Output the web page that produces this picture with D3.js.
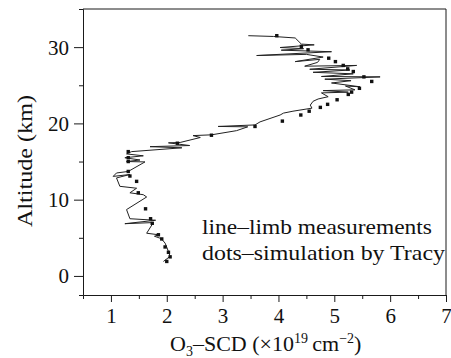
<!DOCTYPE html>
<html>
<head>
<meta charset="utf-8">
<script src="https://cdn.jsdelivr.net/npm/d3@7"></script>
</head>
<body style="margin:0">
<svg id="chart" width="451" height="358"></svg>
<script>
// ---- data ----
// measured limb profile: O3 SCD (x10^19 cm^-2) and altitude (km), top to bottom
const lineScd = [3.46,3.91,4.30,4.41,4.64,4.03,4.45,4.05,4.95,3.61,4.50,4.80,4.30,4.74,4.70,4.47,5.40,4.56,5.28,4.62,5.34,4.77,5.82,4.83,5.30,4.95,5.46,5.20,5.37,4.80,5.25,4.77,4.89,4.71,4.62,4.57,4.60,4.26,4.09,4.03,3.67,3.58,2.92,3.45,3.25,2.80,2.47,2.60,2.24,2.03,2.41,1.70,2.27,1.37,1.28,1.58,1.25,1.52,1.28,1.61,1.31,1.10,1.04,1.34,1.10,1.16,1.46,1.34,1.58,1.64,1.28,1.34,1.80,1.25,1.76,1.64,1.85,1.78,1.90,1.97,2.03,2.06,1.94];
const lineAlt = [31.5,31.4,31.2,30.4,30.3,29.95,29.8,29.6,29.4,28.9,29.05,28.7,28.1,28.4,28.0,27.5,27.6,27.1,27.0,26.7,26.5,26.15,26.1,25.8,25.6,25.3,24.8,24.9,24.4,24.3,24.1,24.0,23.5,23.2,22.9,22.4,22.0,21.6,21.35,21.1,20.2,19.8,19.6,19.55,19.05,18.5,18.4,18.15,17.5,17.45,17.1,16.95,16.8,16.3,16.0,15.75,15.5,15.2,15.0,14.95,13.7,13.5,13.05,13.3,12.85,11.75,11.5,10.9,10.65,10.35,8.7,7.5,7.3,6.85,7.0,5.6,5.4,5.2,4.9,4.3,3.2,2.57,1.9];
// simulation by Tracy (dots)
const dotScd = [3.97,4.41,4.53,4.90,5.02,5.16,5.24,5.34,5.53,5.67,5.45,5.31,5.25,5.05,4.88,4.75,4.55,4.40,4.07,3.58,2.80,2.19,1.31,1.31,1.31,1.31,1.34,1.46,1.49,1.62,1.71,1.74,1.85,1.91,1.97,2.03,2.06,2.00];
const dotAlt = [31.5,30.1,29.65,28.55,28.1,27.6,27.15,26.8,26.1,25.5,24.6,24.1,23.8,23.1,22.5,22.1,21.6,21.1,20.3,19.6,18.45,17.4,16.3,15.5,15.0,13.7,13.1,12.4,10.9,8.8,7.5,6.9,5.4,4.85,3.8,3.1,2.5,1.9];
// axes
const xMajorTicks = [1,2,3,4,5,6,7];
const xMinorTicks = [1.5,2.5,3.5,4.5,5.5,6.5];
const yMajorTicks = [0,10,20,30];
const yMinorTicks = [5,15,25];
const xDomain = [0.5, 7];
const yDomain = [-2.5, 35];
const legendLines = ["line\u2013limb measurements", "dots\u2013simulation by Tracy"];
const yTitle = "Altitude (km)";

// ---- layout ----
const FONT = '"Liberation Serif"';
const svg = d3.select("#chart");
const L = 83, R = 446, T = 9, B = 295;
const x = d3.scaleLinear().domain(xDomain).range([L, R]);
const y = d3.scaleLinear().domain(yDomain).range([B, T]);
const ink = "#1a1a1a";

// frame (top and right)
svg.append("path")
  .attr("d", `M${L},${T}H${R}V${B}`)
  .attr("fill", "none").attr("stroke", ink).attr("stroke-width", 1);

// x axis
const gx = svg.append("g").attr("transform", `translate(0,${B})`)
  .call(d3.axisBottom(x).tickValues(xMajorTicks).tickSize(7).tickSizeOuter(4).tickFormat(d3.format("d")));
svg.append("g").attr("transform", `translate(0,${B})`)
  .call(d3.axisBottom(x).tickValues(xMinorTicks).tickSize(4).tickFormat(""))
  .call(g => g.select(".domain").remove());
gx.attr("font-family", null).attr("font-size", null);
gx.selectAll("text").attr("y", 28).attr("dy", 0);

// y axis
const gy = svg.append("g").attr("transform", `translate(${L},0)`)
  .call(d3.axisLeft(y).tickValues(yMajorTicks).tickSize(9).tickSizeOuter(4).tickFormat(d3.format("d")));
svg.append("g").attr("transform", `translate(${L},0)`)
  .call(d3.axisLeft(y).tickValues(yMinorTicks).tickSize(4).tickFormat(""))
  .call(g => g.select(".domain").remove());
gy.attr("font-family", null).attr("font-size", null);
gy.selectAll("text").attr("x", -14).attr("dy", "0.33em");

svg.selectAll(".tick line, .domain").attr("stroke", ink);
svg.selectAll(".tick text")
  .attr("fill", "#111")
  .style("font-family", FONT)
  .attr("font-size", 21);

// measured line
const line = d3.line().x(d => x(d[0])).y(d => y(d[1]));
svg.append("path")
  .datum(lineScd.map((v, i) => [v, lineAlt[i]]))
  .attr("d", line)
  .attr("fill", "none").attr("stroke", "#222").attr("stroke-width", 1);

// simulation dots
svg.append("g").selectAll("rect")
  .data(dotScd.map((v, i) => [v, dotAlt[i]]))
  .join("rect")
  .attr("x", d => x(d[0]) - 1.7).attr("y", d => y(d[1]) - 1.7)
  .attr("width", 3.4).attr("height", 3.4).attr("fill", "#111");

// legend text
svg.selectAll("text.legend").data(legendLines).join("text")
  .attr("class", "legend")
  .attr("x", 202).attr("y", (d, i) => 234 + i * 26)
  .attr("font-size", 21)
  .style("font-family", FONT)
  .attr("fill", "#111")
  .attr("textLength", (d, i) => i === 0 ? 230 : 243)
  .attr("lengthAdjust", "spacingAndGlyphs")
  .text(d => d);

// y title
svg.append("text")
  .attr("transform", "translate(32,161) rotate(-90)")
  .attr("text-anchor", "middle").attr("font-size", 22)
  .style("font-family", FONT).attr("fill", "#111")
  .attr("textLength", 132).attr("lengthAdjust", "spacingAndGlyphs")
  .text(yTitle);

// x title with sub/superscripts
const xt = svg.append("text").attr("x", 170).attr("y", 351).attr("font-size", 22)
  .style("font-family", FONT).attr("fill", "#111");
xt.append("tspan").text("O");
xt.append("tspan").attr("font-size", 14).attr("dy", 5).text("3");
xt.append("tspan").attr("dy", -5).text("\u2013SCD (\u00d710");
xt.append("tspan").attr("font-size", 14).attr("dy", -8).text("19");
xt.append("tspan").attr("dy", 8).text("\u2009cm");
xt.append("tspan").attr("font-size", 14).attr("dy", -8).text("\u22122");
xt.append("tspan").attr("dy", 8).text(")");
</script>
</body>
</html>
